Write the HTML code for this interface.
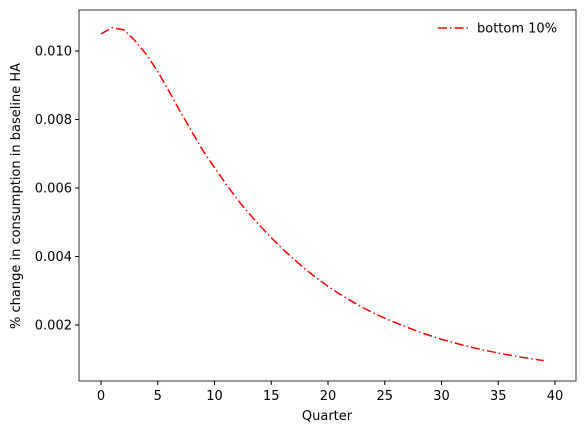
<!DOCTYPE html>
<html><head><meta charset="utf-8"><style>
body{margin:0;background:#fff;}
svg{display:block;font-family:"DejaVu Sans","Liberation Sans",sans-serif;}
</style></head><body>
<svg id="chart" width="584" height="432" viewBox="0 0 584 432">
<rect width="584" height="432" fill="#fff"/>
<g id="ticks"></g>
<path id="series" fill="none" stroke="#ff0000" stroke-width="1.5" stroke-dasharray="9,3,1.5,3"/>
<rect x="79" y="10" width="497" height="371" fill="none" stroke="#000" stroke-width="0.8"/>
<text x="327" y="420" font-size="13" text-anchor="middle">Quarter</text>
<text transform="translate(20,196) rotate(-90)" font-size="13" text-anchor="middle">% change in consumption in baseline HA</text>
<g>
<line x1="438" y1="28" x2="470" y2="28" stroke="#ff0000" stroke-width="1.5" stroke-dasharray="9,3,1.5,3"/>
<text x="477" y="32.5" font-size="13">bottom 10%</text>
</g>
</svg>
<script>
const quarters = Array.from({length:40},(_,i)=>i);
const values = [0.01050,0.01068,0.01062,0.01030,0.00990,0.00940,0.00882,0.00822,0.00765,0.00708,0.00660,0.00612,0.00567,0.00527,0.00490,0.00455,0.00422,0.00392,0.00363,0.00337,0.00313,0.00291,0.00271,0.00252,0.00235,0.00220,0.00206,0.00193,0.00180,0.00169,0.00158,0.00149,0.00140,0.00132,0.00125,0.00118,0.00112,0.00106,0.00101,0.00096];
const xTicks = [0,5,10,15,20,25,30,35,40];
const yTicks = [0.002,0.004,0.006,0.008,0.010];
const yLabels = ["0.002","0.004","0.006","0.008","0.010"];
const X = q => 101 + (q/40)*(555-101);
const Y = v => 325 - (v-0.002)/0.008*(325-51);
const NS="http://www.w3.org/2000/svg";
const g=document.getElementById('ticks');
xTicks.forEach(t=>{
  const l=document.createElementNS(NS,'line');
  l.setAttribute('x1',X(t));l.setAttribute('x2',X(t));l.setAttribute('y1',381);l.setAttribute('y2',385);l.setAttribute('stroke','#000');
  
  
  g.appendChild(l);
  const tx=document.createElementNS(NS,'text');
  tx.setAttribute('x',X(t));tx.setAttribute('y',400);tx.setAttribute('font-size','13');tx.setAttribute('text-anchor','middle');
  tx.textContent=t;
  
  
  g.appendChild(tx);
});
yTicks.forEach((t,i)=>{
  const l=document.createElementNS(NS,'line');
  l.setAttribute('x1',75);l.setAttribute('x2',79);l.setAttribute('y1',Y(t));l.setAttribute('y2',Y(t));l.setAttribute('stroke','#000');
  
  
  g.appendChild(l);
  const tx=document.createElementNS(NS,'text');
  tx.setAttribute('x',72);tx.setAttribute('y',Y(t)+4.5);tx.setAttribute('font-size','13');tx.setAttribute('text-anchor','end');
  tx.textContent=yLabels[i];
  
  
  g.appendChild(tx);
});
document.getElementById('series').setAttribute('d',values.map((v,i)=>(i?'L':'M')+X(quarters[i]).toFixed(2)+','+Y(v).toFixed(2)).join(' '));
</script>
</body></html>
